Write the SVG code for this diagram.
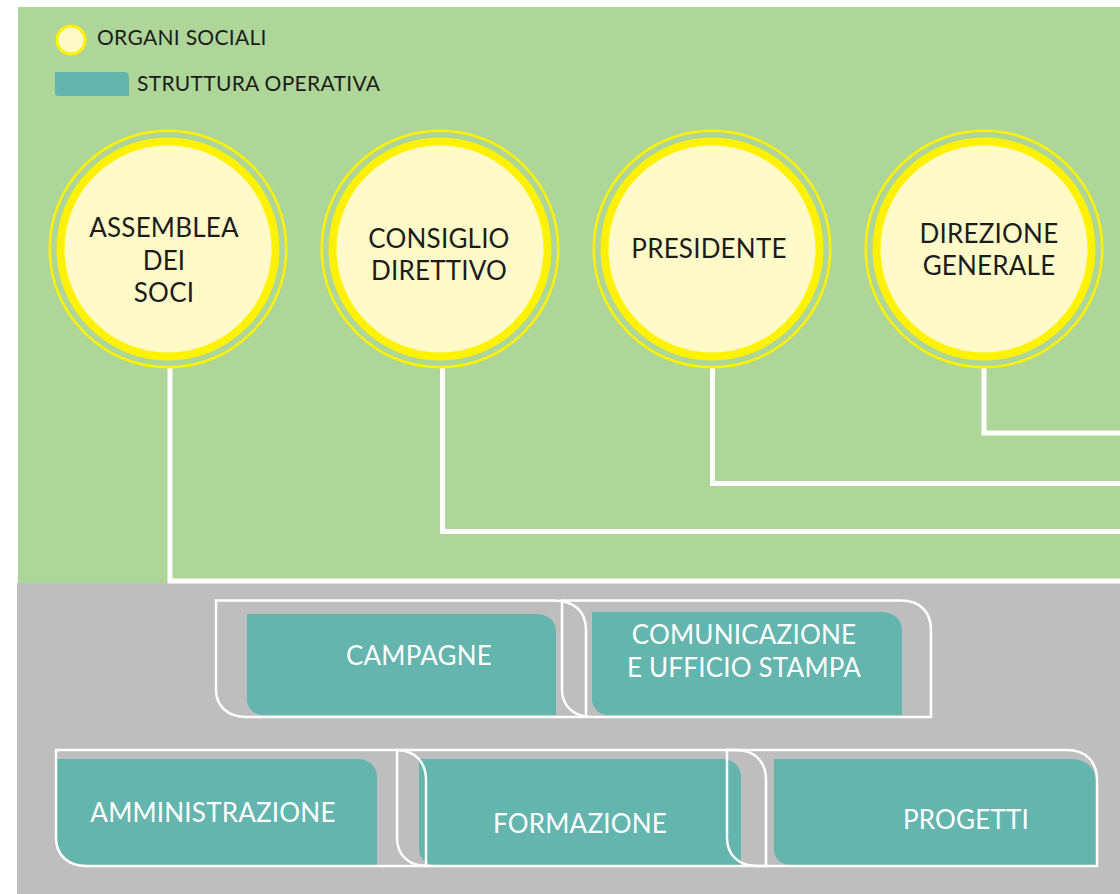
<svg xmlns="http://www.w3.org/2000/svg" width="1120" height="894" viewBox="0 0 1120 894">
<style>
.dark{font-family:Lato,"Noto Sans",sans-serif;fill:#1c1c1c}
.lbl{font-family:Lato,"Noto Sans",sans-serif;fill:#ffffff}
.big{font-size:26px;letter-spacing:0.2px}
.leg{font-size:21px;letter-spacing:0.3px}
.ring{fill:none;stroke:#fff200;stroke-width:2.5}
.core{fill:#fffac8;stroke:#fff200;stroke-width:8}
.teal{fill:#64b5ae}
.out{fill:none;stroke:#ffffff;stroke-width:2.5}
.conn{fill:none;stroke:#ffffff;stroke-width:5}
</style>
<rect x="0" y="0" width="1120" height="894" fill="#ffffff"/>
<rect x="18" y="7" width="1102" height="577" fill="#add698"/>
<rect x="17" y="583" width="1103" height="311" fill="#bebebe"/>
<g id="legend">
<circle cx="71" cy="40" r="14" fill="#fffac8" stroke="#fff200" stroke-width="3"/>
<text class="dark leg" x="97" y="45">ORGANI SOCIALI</text>
<path class="teal" d="M55,72 H124 Q129,72 129,77 V96 H58 Q55,96 55,93 Z"/>
<text class="dark leg" x="137" y="91">STRUTTURA OPERATIVA</text>
</g>
<g id="connectors">
<path class="conn" d="M170,366 V581 H1120"/>
<path class="conn" d="M442.5,366 V531.5 H1120"/>
<path class="conn" d="M712.5,366 V483.5 H1120"/>
<path class="conn" d="M984,366 V433 H1120"/>
</g>
<g id="assemblea">
<circle class="ring" cx="168" cy="249" r="118.3"/>
<circle class="core" cx="168" cy="249" r="107.5"/>
<text class="dark big" text-anchor="middle"><tspan x="164" y="237">ASSEMBLEA</tspan><tspan x="164" y="270">DEI</tspan><tspan x="164" y="302">SOCI</tspan></text>
</g>
<g id="consiglio">
<circle class="ring" cx="440" cy="249" r="118.3"/>
<circle class="core" cx="440" cy="249" r="107.5"/>
<text class="dark big" text-anchor="middle"><tspan x="439" y="248">CONSIGLIO</tspan><tspan x="439" y="280">DIRETTIVO</tspan></text>
</g>
<g id="presidente">
<circle class="ring" cx="712" cy="249" r="118.3"/>
<circle class="core" cx="712" cy="249" r="107.5"/>
<text class="dark big" x="709" y="258" text-anchor="middle">PRESIDENTE</text>
</g>
<g id="direzione">
<circle class="ring" cx="984" cy="249" r="118.3"/>
<circle class="core" cx="984" cy="249" r="107.5"/>
<text class="dark big" text-anchor="middle"><tspan x="989" y="243">DIREZIONE</tspan><tspan x="989" y="275">GENERALE</tspan></text>
</g>
<g id="campagne">
<path class="teal" d="M247,614 H536 C548,614 556,621 556,632 V715 H263 C254,715 247,708 247,700 Z"/>
<text class="lbl big" x="419" y="665" text-anchor="middle">CAMPAGNE</text>
</g>
<g id="comunicazione">
<path class="teal" d="M592,612 H881 C894,612 902,620 902,630 V715 H608 C599,715 592,708 592,699 Z"/>
<text class="lbl big" text-anchor="middle"><tspan x="744" y="644">COMUNICAZIONE</tspan><tspan x="744" y="677">E UFFICIO STAMPA</tspan></text>
</g>
<g id="amministrazione">
<path class="teal" d="M57,759 H357 C370,759 377,767 377,778 V865 H87 C70,865 57,853 57,838 Z"/>
<text class="lbl big" x="213" y="822" text-anchor="middle">AMMINISTRAZIONE</text>
</g>
<g id="formazione">
<path class="teal" d="M419,759 H721 C734,759 741,767 741,778 V865 H435 C426,865 419,858 419,849 Z"/>
<text class="lbl big" x="580" y="833" text-anchor="middle">FORMAZIONE</text>
</g>
<g id="progetti">
<path class="teal" d="M774,759 H1070 C1086,759 1096,768 1096,782 V865 H790 C781,865 774,858 774,849 Z"/>
<text class="lbl big" x="966" y="829" text-anchor="middle">PROGETTI</text>
</g>
<g id="outlines">
<path class="out" d="M216,600.5 H553 C575,600.5 586,612 586,630 V717 H246 C228,717 216,706 216,690 Z"/>
<path class="out" d="M562,600.5 H901 C920,600.5 931,612 931,630 V717 H592 C574,717 562,706 562,690 Z"/>
<path class="out" d="M56,750 H396 C415,750 426,762 426,780 V866 H86 C68,866 56,855 56,838 Z"/>
<path class="out" d="M397,750 H736 C755,750 766,762 766,780 V866 H427 C409,866 397,855 397,838 Z"/>
<path class="out" d="M727,750 H1067 C1086,750 1097,762 1097,780 V866 H757 C739,866 727,855 727,838 Z"/>
</g>
</svg>
